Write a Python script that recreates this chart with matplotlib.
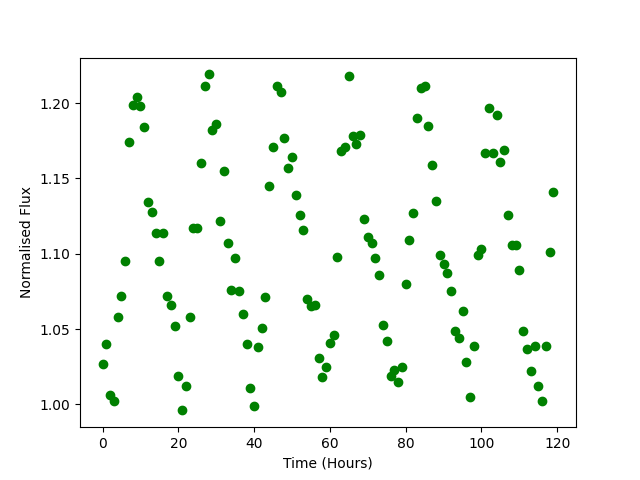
import numpy as np
import matplotlib
matplotlib.use("Agg")
import matplotlib.pyplot as plt

# hourly samples, 0..119
time_hours = np.arange(120)

flux = [
    1.027, 1.040, 1.006, 1.002, 1.058, 1.072, 1.095, 1.174, 1.199, 1.204,
    1.198, 1.184, 1.134, 1.128, 1.114, 1.095, 1.114, 1.072, 1.066, 1.052,
    1.019, 0.996, 1.012, 1.058, 1.117, 1.117, 1.160, 1.211, 1.219, 1.182,
    1.186, 1.122, 1.155, 1.107, 1.076, 1.097, 1.075, 1.060, 1.040, 1.011,
    0.999, 1.038, 1.051, 1.071, 1.145, 1.171, 1.211, 1.207, 1.177, 1.157,
    1.164, 1.139, 1.126, 1.116, 1.070, 1.065, 1.066, 1.031, 1.018, 1.025,
    1.041, 1.046, 1.098, 1.168, 1.171, 1.218, 1.178, 1.173, 1.179, 1.123,
    1.111, 1.107, 1.097, 1.086, 1.053, 1.042, 1.019, 1.023, 1.015, 1.025,
    1.080, 1.109, 1.127, 1.190, 1.210, 1.211, 1.185, 1.159, 1.135, 1.099,
    1.093, 1.087, 1.075, 1.049, 1.044, 1.062, 1.028, 1.005, 1.039, 1.099,
    1.103, 1.167, 1.197, 1.167, 1.192, 1.161, 1.169, 1.126, 1.106, 1.106,
    1.089, 1.049, 1.037, 1.022, 1.039, 1.012, 1.002, 1.039, 1.101, 1.141,
]

fig, ax = plt.subplots(figsize=(6.4, 4.8), dpi=100)
ax.plot(time_hours, flux, "go")
ax.set_xlabel("Time (Hours)")
ax.set_ylabel("Normalised Flux")

fig.savefig("out.png")
